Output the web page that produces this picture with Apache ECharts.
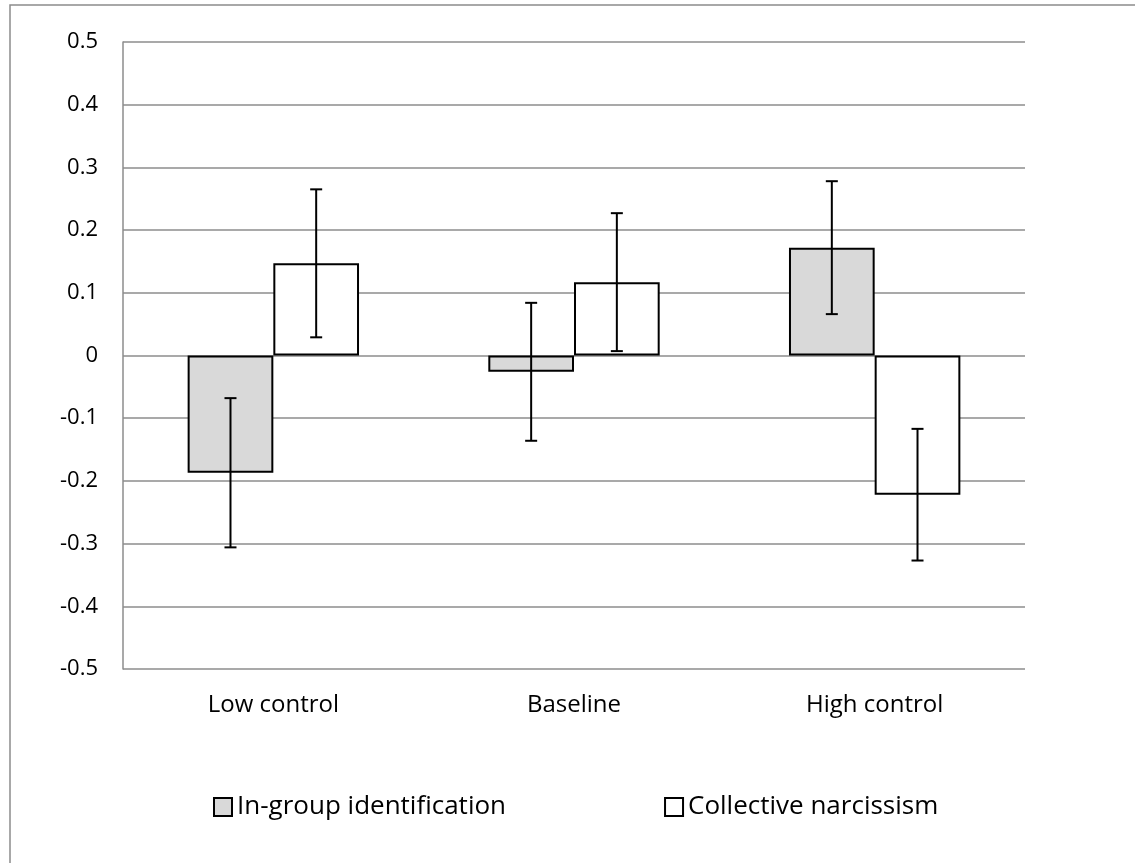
<!DOCTYPE html>
<html>
<head>
<meta charset="utf-8">
<script src="https://cdn.jsdelivr.net/npm/echarts@6/dist/echarts.min.js"></script>
<style>
  html, body { margin: 0; padding: 0; background: #fff; }
  #main { width: 1135px; height: 863px; }
</style>
</head>
<body>
<div id="main"></div>
<script>
// data
var categories = ['Low control', 'Baseline', 'High control'];
var ingroupMeans = [-0.187, -0.026, 0.172];
var ingroupErrors = [0.119, 0.110, 0.106];
var narcMeans = [0.147, 0.117, -0.222];
var narcErrors = [0.118, 0.110, 0.105];
var yTicks = [-0.5, -0.4, -0.3, -0.2, -0.1, 0, 0.1, 0.2, 0.3, 0.4, 0.5];

var catGap = 0.43;
var fontFam = '"Open Sans", "Noto Sans", sans-serif';

// error bar renderer, side = -1 for left bar, +1 for right bar
function errRender(means, errs, side) {
    return function (params, api) {
        var i = api.value(0);
        var catW = api.size([1, 0])[0];
        var bw = catW * (1 - catGap) / 2;
        var c = api.coord([i, means[i]]);
        var x = c[0] + side * bw / 2;
        var hi = api.coord([i, means[i] + errs[i]])[1];
        var lo = api.coord([i, means[i] - errs[i]])[1];
        var st = { stroke: '#000', lineWidth: 2 };
        return {
            type: 'group',
            children: [
                { type: 'line', shape: { x1: x, y1: hi, x2: x, y2: lo }, style: st },
                { type: 'line', shape: { x1: x - 6, y1: hi, x2: x + 6, y2: hi }, style: st },
                { type: 'line', shape: { x1: x - 6, y1: lo, x2: x + 6, y2: lo }, style: st }
            ]
        };
    };
}

var myChart = echarts.init(document.getElementById('main'));
var option = {
    animation: false,
    backgroundColor: '#fff',
    textStyle: { fontFamily: fontFam },
    graphic: [
        { type: 'polyline', shape: { points: [[10, 863], [10, 5], [1135, 5]] },
          style: { stroke: '#8c8c8c', lineWidth: 1.5, fill: null } }
    ],
    grid: { left: 123, right: 110, top: 42, bottom: 194, containLabel: false },
    legend: {
        left: 213,
        top: 794,
        padding: 0,
        itemWidth: 18,
        itemHeight: 18,
        itemGap: 158,
        icon: 'rect',
        textStyle: { fontSize: 26, color: '#000', fontFamily: fontFam },
        data: ['In-group identification', 'Collective narcissism']
    },
    xAxis: {
        type: 'category',
        data: categories,
        axisLine: { show: false },
        axisTick: { show: false },
        axisLabel: { color: '#000', fontSize: 24, margin: 24, fontFamily: fontFam }
    },
    yAxis: {
        type: 'value',
        min: yTicks[0],
        max: yTicks[yTicks.length - 1],
        interval: 0.1,
        axisLine: { show: true, lineStyle: { color: '#8c8c8c', width: 1.5 } },
        axisTick: { show: false },
        splitLine: { show: true, lineStyle: { color: '#8c8c8c', width: 1.5 } },
        axisLabel: {
            color: '#000', fontSize: 22, margin: 25, fontFamily: fontFam,
            formatter: function (v) { return String(Math.round(v * 10) / 10); }
        }
    },
    series: [
        {
            name: 'In-group identification',
            type: 'bar',
            data: ingroupMeans,
            barGap: '0%',
            barCategoryGap: (catGap * 100) + '%',
            itemStyle: { color: '#d9d9d9', borderColor: '#000', borderWidth: 2 }
        },
        {
            name: 'Collective narcissism',
            type: 'bar',
            data: narcMeans,
            barGap: '0%',
            barCategoryGap: (catGap * 100) + '%',
            itemStyle: { color: '#fff', borderColor: '#000', borderWidth: 2 }
        },
        {
            type: 'custom',
            renderItem: errRender(ingroupMeans, ingroupErrors, -1),
            data: categories.map(function (c, i) { return [i]; }),
            z: 10
        },
        {
            type: 'custom',
            renderItem: errRender(narcMeans, narcErrors, 1),
            data: categories.map(function (c, i) { return [i]; }),
            z: 10
        }
    ]
};
myChart.setOption(option);
</script>
</body>
</html>
